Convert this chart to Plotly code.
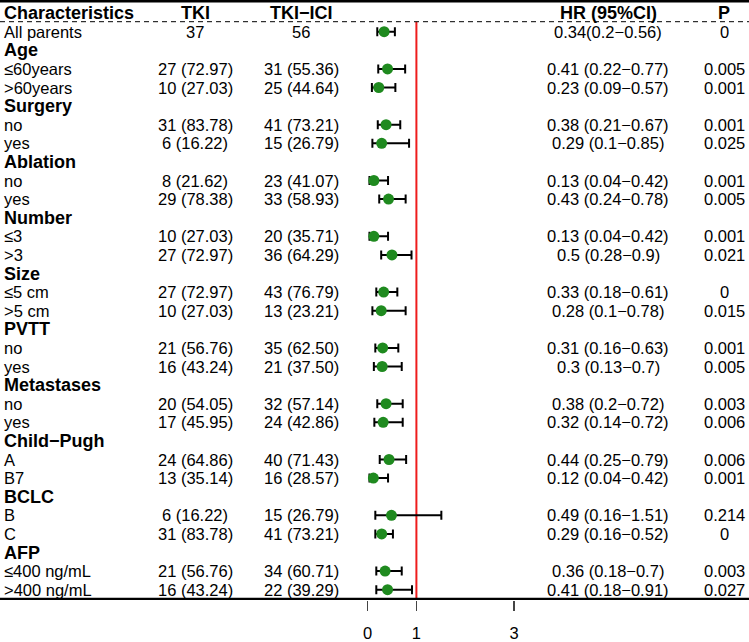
import plotly.graph_objects as go

# ---------------- data ----------------
labels = ["All parents", "Age", "≤60years", ">60years", "Surgery", "no", "yes",
          "Ablation", "no", "yes", "Number", "≤3", ">3", "Size", "≤5 cm", ">5 cm",
          "PVTT", "no", "yes", "Metastases", "no", "yes", "Child−Pugh", "A", "B7",
          "BCLC", "B", "C", "AFP", "≤400 ng/mL", ">400 ng/mL"]
group_rows = ["Age", "Surgery", "Ablation", "Number", "Size", "PVTT",
              "Metastases", "Child−Pugh", "BCLC", "AFP"]

tki = ["37", "", "27 (72.97)", "10 (27.03)", "", "31 (83.78)", "6 (16.22)",
       "", "8 (21.62)", "29 (78.38)", "", "10 (27.03)", "27 (72.97)", "",
       "27 (72.97)", "10 (27.03)", "", "21 (56.76)", "16 (43.24)", "",
       "20 (54.05)", "17 (45.95)", "", "24 (64.86)", "13 (35.14)", "",
       "6 (16.22)", "31 (83.78)", "", "21 (56.76)", "16 (43.24)"]
tki_ici = ["56", "", "31 (55.36)", "25 (44.64)", "", "41 (73.21)", "15 (26.79)",
           "", "23 (41.07)", "33 (58.93)", "", "20 (35.71)", "36 (64.29)", "",
           "43 (76.79)", "13 (23.21)", "", "35 (62.50)", "21 (37.50)", "",
           "32 (57.14)", "24 (42.86)", "", "40 (71.43)", "16 (28.57)", "",
           "15 (26.79)", "41 (73.21)", "", "34 (60.71)", "22 (39.29)"]
hr = [0.34, None, 0.41, 0.23, None, 0.38, 0.29, None, 0.13, 0.43, None, 0.13, 0.5,
      None, 0.33, 0.28, None, 0.31, 0.3, None, 0.38, 0.32, None, 0.44, 0.12, None,
      0.49, 0.29, None, 0.36, 0.41]
hr_lo = [0.2, None, 0.22, 0.09, None, 0.21, 0.1, None, 0.04, 0.24, None, 0.04, 0.28,
         None, 0.18, 0.1, None, 0.16, 0.13, None, 0.2, 0.14, None, 0.25, 0.04, None,
         0.16, 0.16, None, 0.18, 0.18]
hr_hi = [0.56, None, 0.77, 0.57, None, 0.67, 0.85, None, 0.42, 0.78, None, 0.42, 0.9,
         None, 0.61, 0.78, None, 0.63, 0.7, None, 0.72, 0.72, None, 0.79, 0.42, None,
         1.51, 0.52, None, 0.7, 0.91]
hr_text = ["0.34(0.2−0.56)", "", "0.41 (0.22−0.77)", "0.23 (0.09−0.57)", "",
           "0.38 (0.21−0.67)", "0.29 (0.1−0.85)", "", "0.13 (0.04−0.42)",
           "0.43 (0.24−0.78)", "", "0.13 (0.04−0.42)", "0.5 (0.28−0.9)", "",
           "0.33 (0.18−0.61)", "0.28 (0.1−0.78)", "", "0.31 (0.16−0.63)",
           "0.3 (0.13−0.7)", "", "0.38 (0.2−0.72)", "0.32 (0.14−0.72)", "",
           "0.44 (0.25−0.79)", "0.12 (0.04−0.42)", "", "0.49 (0.16−1.51)",
           "0.29 (0.16−0.52)", "", "0.36 (0.18−0.7)", "0.41 (0.18−0.91)"]
p_vals = ["0", "", "0.005", "0.001", "", "0.001", "0.025", "", "0.001", "0.005", "",
          "0.001", "0.021", "", "0", "0.015", "", "0.001", "0.005", "", "0.003",
          "0.006", "", "0.006", "0.001", "", "0.214", "0", "", "0.003", "0.027"]
headers = ["Characteristics", "TKI", "TKI−ICI", "HR (95%CI)", "P"]
x_ticks = [0, 1, 3]
ref_line = 1

# ---------------- layout geometry (pixels) ----------------
W, H = 749, 642
PLOT_H = 600                 # plot area height (bottom margin holds tick labels)
ROW0, ROWH = 31.7, 18.6      # pixel y of first row, row spacing
X0, XU = 367.5, 48.9         # pixel x of HR=0, pixels per HR unit

xr = [(0 - X0) / XU, (W - X0) / XU]
yr = [(PLOT_H - ROW0) / ROWH, (0 - ROW0) / ROWH]


def py(p):
    return (p - ROW0) / ROWH


FONT = "Liberation Sans, Arial, sans-serif"
BODY = 16.5
BOLD = 18

rows = list(range(len(labels)))
fig = go.Figure()

# points with CI
xs, ys, ep, em = [], [], [], []
for i in rows:
    if hr[i] is not None:
        xs.append(hr[i]); ys.append(i)
        ep.append(hr_hi[i] - hr[i]); em.append(hr[i] - hr_lo[i])
fig.add_trace(go.Scatter(
    x=xs, y=ys, mode="markers",
    marker=dict(color="#1f8a1f", size=11, line=dict(width=0)),
    error_x=dict(type="data", symmetric=False, array=ep, arrayminus=em,
                 color="black", thickness=2, width=4.5),
    hoverinfo="skip", showlegend=False))

ann = []
col_x = {"TKI": 195, "TKI−ICI": 301, "HR": 608, "P": 724}

# header row
hy = py(12.5)
ann.append(dict(x=2 / W, y=hy, text="<b>" + headers[0] + "</b>", xanchor="left",
                font=dict(size=BOLD)))
for name, key in zip(headers[1:], ["TKI", "TKI−ICI", "HR", "P"]):
    ann.append(dict(x=col_x[key] / W, y=hy, text="<b>" + name + "</b>",
                    xanchor="center", font=dict(size=BOLD)))

for i in rows:
    if labels[i] in group_rows:
        ann.append(dict(x=2 / W, y=i, text="<b>" + labels[i] + "</b>",
                        xanchor="left", font=dict(size=BOLD)))
    else:
        ann.append(dict(x=2 / W, y=i, text=labels[i], xanchor="left",
                        font=dict(size=BODY)))
    for key, arr in (("TKI", tki), ("TKI−ICI", tki_ici), ("HR", hr_text), ("P", p_vals)):
        if arr[i]:
            ann.append(dict(x=col_x[key] / W, y=i, text=arr[i], xanchor="center",
                            font=dict(size=BODY)))

for a in ann:
    a.update(xref="paper", yref="y", yanchor="middle", showarrow=False)
    a["font"].update(family=FONT, color="black")

shapes = [
    # top border
    dict(type="line", xref="paper", yref="y", x0=0, x1=1, y0=py(1.3), y1=py(1.3),
         line=dict(color="black", width=2.5)),
    # dashed header separator
    dict(type="line", xref="paper", yref="y", x0=0, x1=1, y0=py(21.7), y1=py(21.7),
         line=dict(color="black", width=1, dash="5px,4px")),
    # bottom border
    dict(type="line", xref="paper", yref="y", x0=0, x1=1, y0=py(599), y1=py(599),
         line=dict(color="black", width=2.5)),
    # reference line
    dict(type="line", xref="x", yref="y", x0=ref_line, x1=ref_line,
         y0=py(22), y1=py(599), line=dict(color="#ee1c1c", width=2), layer="below"),
]

fig.update_layout(
    width=W, height=H,
    margin=dict(l=0, r=0, t=0, b=H - PLOT_H, pad=0),
    paper_bgcolor="white", plot_bgcolor="white",
    annotations=ann, shapes=shapes,
    xaxis=dict(range=xr, showgrid=False, zeroline=False, showline=False,
               tickmode="array", tickvals=x_ticks, ticktext=[str(v) for v in x_ticks],
               ticks="outside", ticklen=10, tickwidth=1.5, tickcolor="#444",
               ticklabelstandoff=8,
               tickfont=dict(family=FONT, size=BODY, color="black"), fixedrange=True),
    yaxis=dict(range=yr, showgrid=False, zeroline=False, showline=False,
               showticklabels=False, ticks="", fixedrange=True),
    font=dict(family=FONT, color="black"),
)

fig.write_html("out.html",
               config={"displayModeBar": False, "staticPlot": True},
               post_script="document.body.style.margin='0';"
                           "document.body.style.overflow='hidden';")
